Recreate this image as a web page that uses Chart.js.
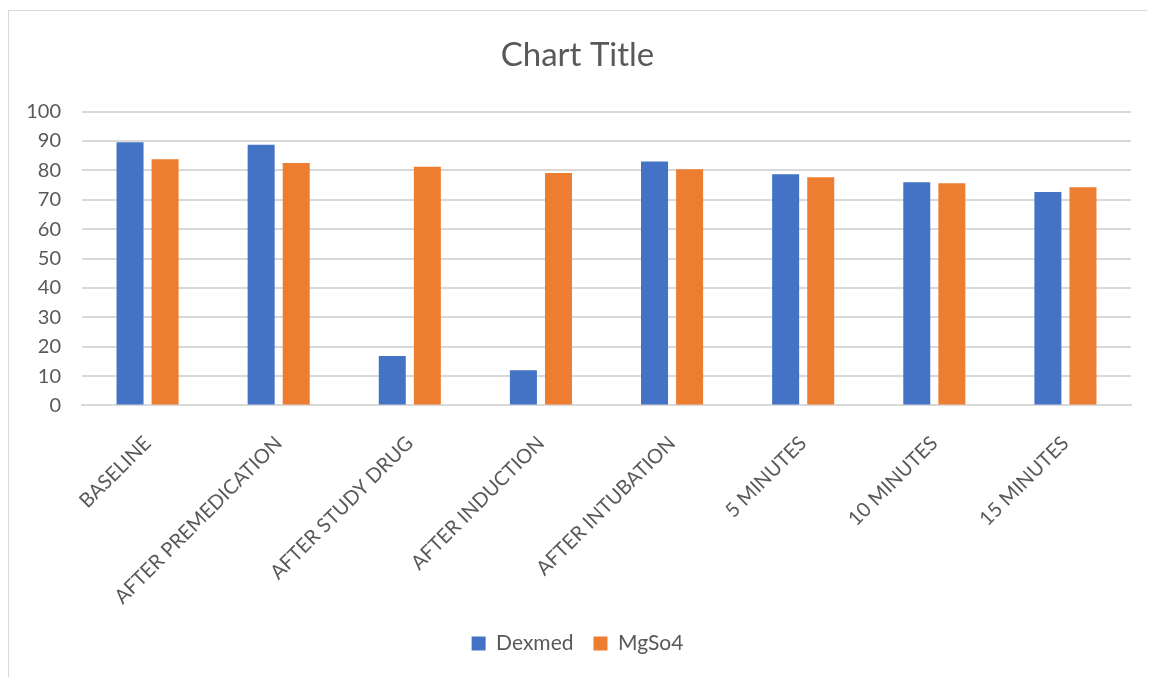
<!DOCTYPE html>
<html>
<head>
<meta charset="utf-8">
<script src="https://cdn.jsdelivr.net/npm/chart.js@4/dist/chart.umd.min.js"></script>
<style>
  html, body { margin: 0; padding: 0; background: #fff; }
  #frame {
    position: absolute; left: 8px; top: 10px;
    width: 1139px; height: 667px;
    border: 1px solid #d9d9d9; border-right: none; border-bottom: none;
    box-sizing: border-box;
  }
  #wrap { position: absolute; left: 0; top: 0; width: 1149px; height: 678px; }
</style>
</head>
<body>
<div id="frame"></div>
<div id="wrap"><canvas id="chart"></canvas></div>
<script>
// Time points and the two study groups
const categories = [
  'BASELINE', 'AFTER PREMEDICATION', 'AFTER STUDY DRUG', 'AFTER INDUCTION',
  'AFTER INTUBATION', '5 MINUTES', '10 MINUTES', '15 MINUTES'
];
const dexmed = [89.6, 88.7, 16.8, 12.0, 83.0, 78.7, 76.0, 72.6];
const mgso4 = [83.8, 82.5, 81.2, 79.1, 80.4, 77.7, 75.6, 74.3];
const yTicks = [0, 10, 20, 30, 40, 50, 60, 70, 80, 90, 100];

const textColor = '#595959';
const fontFamily = 'Lato, "Open Sans", sans-serif';

Chart.defaults.font.family = fontFamily;
Chart.defaults.color = textColor;

new Chart(document.getElementById('chart'), {
  type: 'bar',
  data: {
    labels: categories,
    datasets: [
      {
        label: 'Dexmed',
        data: dexmed,
        backgroundColor: '#4472c4',
        categoryPercentage: 0.535,
        barPercentage: 0.77
      },
      {
        label: 'MgSo4',
        data: mgso4,
        backgroundColor: '#ed7d31',
        categoryPercentage: 0.535,
        barPercentage: 0.77
      }
    ]
  },
  options: {
    responsive: true,
    maintainAspectRatio: false,
    animation: false,
    layout: { padding: { left: 24, right: 18, top: 36, bottom: 14 } },
    plugins: {
      title: {
        display: true,
        text: 'Chart Title',
        color: textColor,
        font: { size: 33, weight: 'normal' },
        padding: { top: 0, bottom: 36 }
      },
      legend: {
        position: 'bottom',
        labels: {
          boxWidth: 14,
          boxHeight: 14,
          padding: 20,
          color: textColor,
          font: { size: 21 }
        }
      },
      tooltip: { enabled: false }
    },
    scales: {
      x: {
        grid: { display: false },
        border: { color: '#d9d9d9', width: 2 },
        // keep the rotated labels from widening the left margin,
        // and let them hang a little into the gap above the legend
        afterFit: scale => {
          scale.paddingLeft = 0;
          scale.paddingRight = 0;
          scale.height -= 14;
        },
        ticks: {
          minRotation: 45,
          maxRotation: 45,
          padding: 18,
          color: textColor,
          font: { size: 20 }
        }
      },
      y: {
        min: 0,
        max: 100,
        afterBuildTicks: axis => { axis.ticks = yTicks.map(v => ({ value: v })); },
        afterFit: scale => { scale.width = 58; },
        grid: { color: '#d9d9d9', lineWidth: 2, drawTicks: false },
        border: { display: false },
        ticks: {
          padding: 21,
          color: textColor,
          font: { size: 20 }
        }
      }
    }
  }
});
</script>
</body>
</html>
